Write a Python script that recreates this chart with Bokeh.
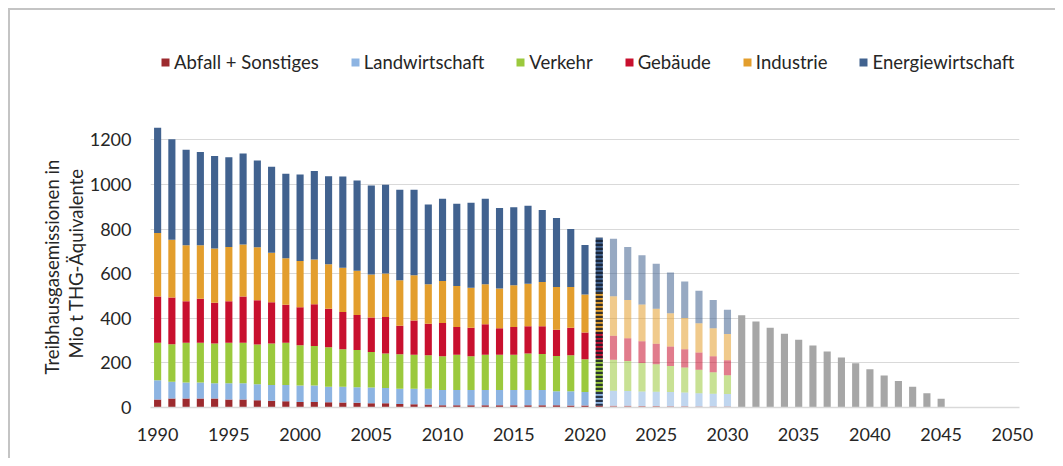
from bokeh.plotting import figure
from bokeh.models import ColumnDataSource, Legend, LegendItem, FixedTicker, Range1d, Title
from bokeh.embed import file_html
from bokeh.resources import INLINE

# ---------------- data (Mio t CO2-Äq.) ----------------
years_hist = list(range(1990, 2022))
abfall_hist = [36, 40, 40, 40, 40, 36, 36, 33, 30, 28, 25, 25, 24, 22, 21, 19,
               19, 16, 15, 13, 10, 10, 10, 10, 10, 10, 10, 10, 10, 9, 9, 10]
landw_hist = [86, 75, 72, 72, 69, 73, 73, 71, 71, 73, 74, 74, 69, 71, 70, 71,
              68, 68, 69, 71, 68, 68, 68, 68, 68, 68, 68, 68, 63, 64, 61, 60]
verkehr_hist = [168, 169, 178, 178, 178, 181, 181, 178, 186, 189, 180, 177, 177, 168, 167, 159,
                155, 155, 152, 150, 152, 159, 152, 159, 159, 159, 164, 162, 158, 161, 146, 149]
gebaeude_hist = [208, 209, 186, 198, 183, 186, 208, 199, 185, 171, 170, 187, 173, 167, 157, 154,
                 164, 127, 154, 141, 149, 124, 128, 136, 118, 124, 122, 124, 117, 123, 120, 120]
industrie_hist = [284, 259, 251, 239, 243, 243, 233, 237, 222, 208, 208, 200, 199, 199, 198, 193,
                  195, 204, 203, 177, 188, 184, 179, 179, 178, 187, 191, 199, 192, 183, 170, 179]
energie_hist = [472, 451, 428, 418, 414, 403, 408, 389, 385, 379, 388, 397, 395, 409, 405, 399,
                397, 406, 383, 358, 369, 368, 381, 384, 361, 350, 349, 322, 309, 260, 222, 243]

years_ksg = list(range(2022, 2031))
abfall_ksg = [8, 8, 7, 7, 6, 6, 5, 5, 4]
landw_ksg = [67, 66, 65, 64, 63, 61, 59, 57, 56]
verkehr_ksg = [139, 134, 128, 123, 117, 112, 105, 96, 85]
gebaeude_ksg = [108, 102, 97, 92, 87, 82, 77, 72, 67]
industrie_ksg = [177, 172, 165, 157, 149, 140, 132, 125, 118]
energie_ksg = [257, 238, 220, 201, 183, 164, 145, 127, 108]

years_path = list(range(2031, 2046))
total_path = [413, 385, 358, 331, 304, 278, 251, 224, 198, 172, 143, 119, 93, 64, 39]

x_ticks = list(range(1990, 2051, 5))
y_ticks = [0, 200, 400, 600, 800, 1000, 1200]

sectors = ["abfall", "landw", "verkehr", "gebaeude", "industrie", "energie"]
labels = ["Abfall + Sonstiges", "Landwirtschaft", "Verkehr", "Gebäude", "Industrie", "Energiewirtschaft"]
colors = ["#9C2A2E", "#8DB4E2", "#9BC93D", "#C8102E", "#E39E2D", "#41628F"]
y_title = ["Treibhausgasemissionen in", "Mio t THG-Äquivalente"]

hist = dict(year=years_hist, abfall=abfall_hist, landw=landw_hist, verkehr=verkehr_hist,
            gebaeude=gebaeude_hist, industrie=industrie_hist, energie=energie_hist)
n_act = years_hist.index(2021)
src_a = ColumnDataSource({k: v[:n_act] for k, v in hist.items()})
src_b = ColumnDataSource({k: v[n_act:] for k, v in hist.items()})
src_c = ColumnDataSource(dict(year=years_ksg, abfall=abfall_ksg, landw=landw_ksg, verkehr=verkehr_ksg,
                              gebaeude=gebaeude_ksg, industrie=industrie_ksg, energie=energie_ksg))
src_d = ColumnDataSource(dict(year=years_path, total=total_path))

FONT = "Lato"
TXT = "#262626"

p = figure(width=1047, height=450, x_range=Range1d(1989.5, 2050.5), y_range=Range1d(0, 1690),
           output_backend="svg", toolbar_location=None,
           min_border_left=140, min_border_right=38, min_border_top=20, min_border_bottom=53)
p.styles = {"margin-top": "8px", "margin-left": "8px",
            "border-top": "2px solid #C4C4C4", "border-left": "2px solid #C4C4C4"}

r_hist = p.vbar_stack(sectors, x="year", width=0.5, source=src_a,
                      fill_color=colors, line_color=None)
p.vbar_stack(sectors, x="year", width=0.5, source=src_b,
             fill_color=colors, line_color=None,
             hatch_pattern="horizontal_line", hatch_color="#141c2c",
             hatch_scale=4, hatch_weight=2.4, hatch_alpha=0.85)
p.vbar_stack(sectors, x="year", width=0.5, source=src_c,
             fill_color=colors, fill_alpha=0.55, line_color=None)
p.vbar(x="year", top="total", width=0.5, source=src_d, fill_color="#A6A6A6", line_color=None)

legend = Legend(items=[LegendItem(label=l, renderers=[r]) for l, r in zip(labels, r_hist)],
                orientation="horizontal", location=(10, 334),
                glyph_width=10, glyph_height=10, label_standoff=4, spacing=31,
                padding=0, margin=0, border_line_color=None, background_fill_alpha=0,
                label_text_font=FONT, label_text_font_size="18.5px", label_text_color=TXT)
p.add_layout(legend)

p.outline_line_color = None
p.xgrid.grid_line_color = None
p.ygrid.grid_line_color = "#D9D9D9"

p.xaxis.ticker = FixedTicker(ticks=x_ticks)
p.xaxis.axis_line_color = "#D9D9D9"
p.xaxis.axis_line_width = 1.5
p.xaxis.major_tick_line_color = None
p.xaxis.minor_tick_line_color = None
p.xaxis.major_tick_out = 0
p.xaxis.major_label_standoff = 20
p.xaxis.major_label_text_font = FONT
p.xaxis.major_label_text_font_size = "18px"
p.xaxis.major_label_text_color = TXT

p.yaxis.ticker = FixedTicker(ticks=y_ticks)
p.yaxis.axis_line_color = None
p.yaxis.major_tick_line_color = None
p.yaxis.minor_tick_line_color = None
p.yaxis.major_tick_out = 0
p.yaxis.major_label_standoff = 19
p.yaxis.major_label_text_font = FONT
p.yaxis.major_label_text_font_size = "18px"
p.yaxis.major_label_text_color = TXT

# two-line y-axis title, placed above the 0..1200 part of the axis
for txt, off in [(y_title[1], 49), (y_title[0], 33)]:
    p.add_layout(Title(text=txt, align="left", offset=off, standoff=0,
                       text_font=FONT, text_font_size="18.5px", text_font_style="normal",
                       text_color=TXT), "left")

open("out.html", "w").write(file_html(p, INLINE))
